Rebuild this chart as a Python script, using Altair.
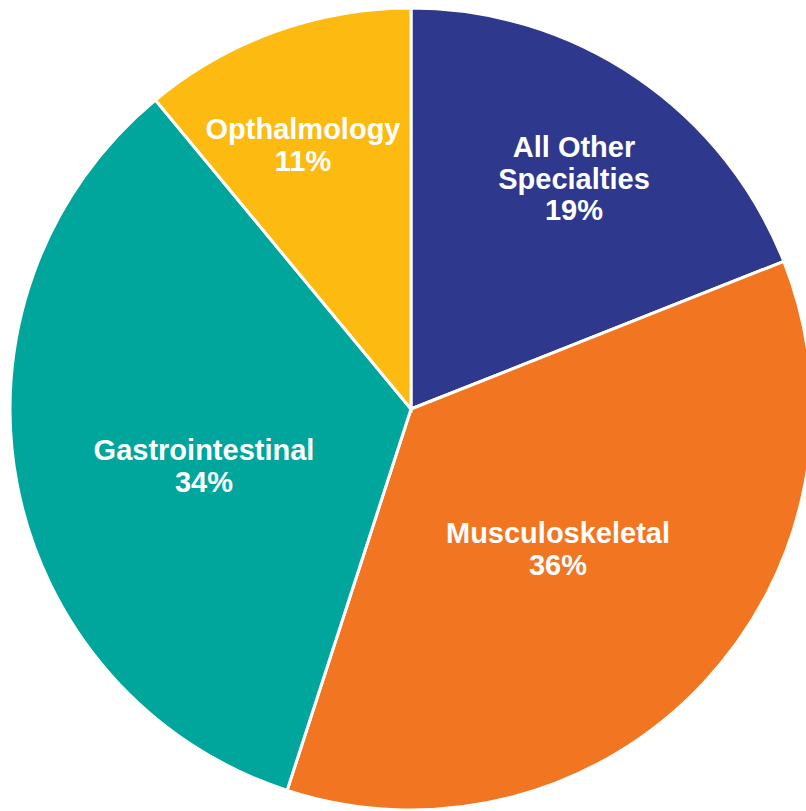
import altair as alt
import pandas as pd

categories = ["All Other Specialties", "Musculoskeletal", "Gastrointestinal", "Opthalmology"]
values = [19, 36, 34, 11]
label_lines = ["All Other\nSpecialties", "Musculoskeletal", "Gastrointestinal", "Opthalmology"]
colors = ["#2E388D", "#F27622", "#00A69C", "#FDBB11"]

# layout: first-line baseline anchor of each label, offset from the pie centre (pixels)
label_offset = {
    "All Other Specialties": (163, -252),
    "Musculoskeletal": (147, 134),
    "Gastrointestinal": (-207, 51),
    "Opthalmology": (-108, -270),
}

CX, CY, R = 411, 409, 401

df = pd.DataFrame({
    "category": categories,
    "value": values,
    "order": list(range(len(categories))),
    "label": [f"{l}\n{v}%" for l, v in zip(label_lines, values)],
})
df["lx"] = [CX + label_offset[c][0] for c in categories]
df["ly"] = [CY + label_offset[c][1] for c in categories]

arcs = alt.Chart(df).mark_arc(radius=R, stroke="white", strokeWidth=3).encode(
    theta=alt.Theta("value:Q", stack=True),
    order=alt.Order("order:Q"),
    color=alt.Color("category:N", scale=alt.Scale(domain=categories, range=colors), legend=None),
    x=alt.value(CX),
    y=alt.value(CY),
)

texts = alt.Chart(df).mark_text(
    font="Liberation Sans", fontWeight="bold", fontSize=29, color="white",
    lineBreak="\n", lineHeight=31.5, align="center", baseline="alphabetic",
).encode(
    x=alt.X("lx:Q", scale=None, axis=None),
    y=alt.Y("ly:Q", scale=None, axis=None),
    text="label:N",
)

chart = (arcs + texts).properties(
    width=806, height=811, padding=0, autosize=alt.AutoSizeParams(type="none")
).configure_view(stroke=None)

chart.save("out.html", embed_options={"renderer": "svg", "actions": False})
